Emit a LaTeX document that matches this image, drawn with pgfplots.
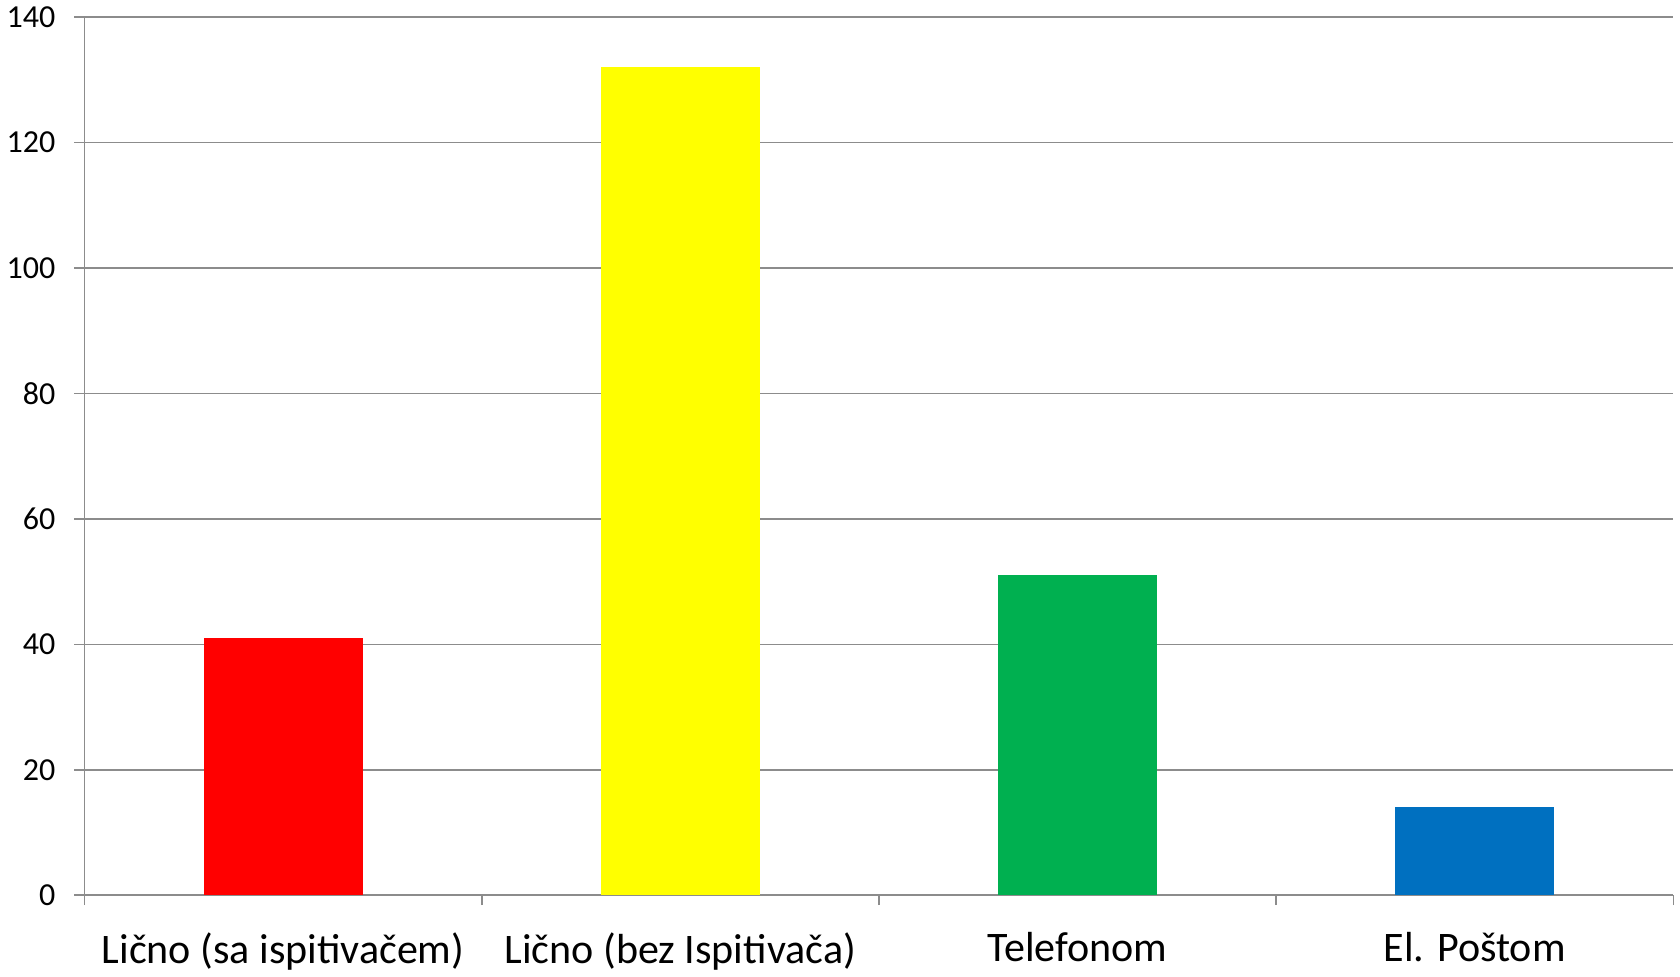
\documentclass[border=0pt]{standalone}
\usepackage{fontspec}
\setmainfont{Carlito}
\usepackage{pgfplots}
\pgfplotsset{compat=1.18}
\definecolor{barred}{HTML}{FF0000}
\definecolor{baryellow}{HTML}{FFFF00}
\definecolor{bargreen}{HTML}{00B050}
\definecolor{barblue}{HTML}{0070C0}
\definecolor{gridgray}{HTML}{8C8C8C}
\begin{document}
\begin{tikzpicture}
\begin{axis}[
    scale only axis,
    width=793.5pt, height=438.5pt,
    xmin=0.5, xmax=4.5,
    ymin=0, ymax=140,
    ytick={0,20,...,140},
    xtick={0.5,1.5,2.5,3.5,4.5},
    xticklabels={},
    extra x ticks={1,2,3,4},
    extra x tick labels={Lično (sa ispitivačem), Lično (bez Ispitivača), Telefonom, El. Poštom},
    extra x tick style={major tick length=0pt, grid=none},
    axis x line=bottom, axis y line=left,
    axis line style={gridgray, line width=0.8pt, -},
    ymajorgrids,
    major grid style={gridgray, line width=0.8pt},
    tick align=outside,
    major tick length=5pt,
    tick style={gridgray, line width=0.8pt},
    /pgf/number format/assume math mode=true,
    yticklabel style={font=\fontsize{16}{19}\selectfont, text=black, xshift=-6pt},
    xticklabel style={font=\fontsize{21}{25}\selectfont, text=black, yshift=-15pt},
    ybar, bar width=0.4, bar shift=0,
    clip=false,
]
\addplot[fill=barred, draw=none] coordinates {(1,41)};
\addplot[fill=baryellow, draw=none] coordinates {(2,132)};
\addplot[fill=bargreen, draw=none] coordinates {(3,51)};
\addplot[fill=barblue, draw=none] coordinates {(4,14)};
\end{axis}
\end{tikzpicture}
\end{document}
